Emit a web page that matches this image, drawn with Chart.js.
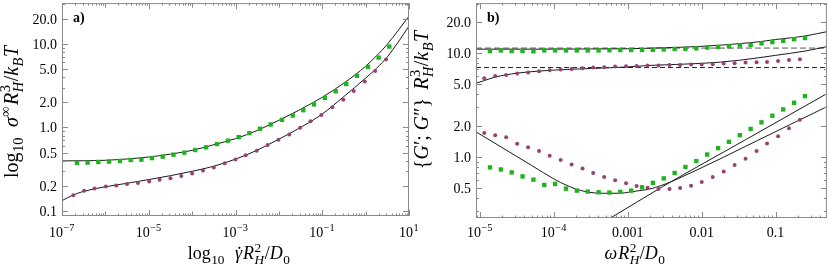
<!DOCTYPE html>
<html><head><meta charset="utf-8">
<script src="https://cdn.jsdelivr.net/npm/chart.js@4.4.0/dist/chart.umd.min.js"></script>
<style>html,body{margin:0;padding:0;background:#fff;width:830px;height:267px;overflow:hidden}
canvas{position:absolute;top:0}</style></head>
<body>
<canvas id="ca" width="830" height="267" style="left:0"></canvas>
<canvas id="cb" width="425" height="267" style="left:405px"></canvas>
<script>
// ---------- Panel a data (x given as log10 exponent of shear rate) ----------
const aSqLogX = [-6.654,-6.41,-6.163,-5.917,-5.663,-5.416,-5.17,-4.925,-4.678,-4.43,-4.18,-3.93,-3.68,-3.427,-3.173,-2.926,-2.68,-2.435,-2.19,-1.928,-1.68,-1.437,-1.19,-0.94,-0.69,-0.446,-0.2,0.055,0.30,0.546];
const aSqY    = [0.376,0.38,0.386,0.39,0.397,0.408,0.412,0.43,0.448,0.473,0.50,0.537,0.578,0.633,0.695,0.767,0.856,0.966,1.086,1.236,1.39,1.61,1.89,2.26,2.71,3.31,4.16,5.32,6.87,9.3];
const aCirLogX = [-6.74,-6.49,-6.25,-5.99,-5.75,-5.5,-5.25,-4.99,-4.75,-4.5,-4.25,-4.0,-3.75,-3.5,-3.25,-3.0,-2.765,-2.51,-2.26,-2.01,-1.76,-1.51,-1.27,-1.02,-0.77,-0.515,-0.275,-0.02,0.22,0.47];
const aCirY    = [0.155,0.175,0.186,0.197,0.202,0.211,0.217,0.226,0.236,0.247,0.263,0.281,0.305,0.331,0.373,0.414,0.464,0.528,0.616,0.714,0.826,0.991,1.188,1.415,1.745,2.15,2.73,3.56,4.73,6.5];
const aFitUpLogX = [-7,-6.5,-6,-5.5,-5,-4.5,-4,-3.5,-3,-2.5,-2,-1.5,-1,-0.5,0,0.25,0.5,0.75,1];
const aFitUpY    = [0.398,0.4,0.405,0.42,0.443,0.48,0.532,0.622,0.735,0.92,1.22,1.65,2.3,3.4,5.4,7.2,9.9,14.5,21.5];
const aFitLoLogX = [-7,-6.75,-6.5,-6,-5.5,-5,-4.5,-4,-3.5,-3,-2.5,-2,-1.5,-1,-0.5,0,0.25,0.5,0.75,1];
const aFitLoY    = [0.133,0.155,0.172,0.195,0.215,0.238,0.265,0.299,0.344,0.418,0.535,0.725,1.0,1.45,2.35,3.9,5.1,7.0,10.5,16.4];

// ---------- Panel b data (x given as log10 exponent of frequency) ----------
const bSqLogX = [-4.865,-4.718,-4.571,-4.424,-4.277,-4.130,-3.983,-3.836,-3.689,-3.542,-3.395,-3.248,-3.101,-2.954,-2.807,-2.660,-2.513,-2.366,-2.219,-2.072,-1.925,-1.778,-1.631,-1.484,-1.337,-1.190,-1.043,-0.896,-0.749,-0.602];
const bSqUpY  = [10.45,10.6,10.45,10.45,10.4,10.6,10.6,10.6,10.6,10.6,10.6,10.65,10.7,10.7,10.7,10.75,10.85,10.95,11.0,11.1,11.3,11.45,11.6,11.85,12.0,12.4,12.75,13.1,13.6,13.95];
const bSqLoY  = [0.790,0.755,0.707,0.647,0.602,0.535,0.547,0.493,0.472,0.462,0.455,0.452,0.459,0.472,0.508,0.561,0.619,0.698,0.797,0.909,1.052,1.212,1.393,1.615,1.856,2.147,2.489,2.861,3.316,3.845];
const bCirLogX = [-4.942,-4.794,-4.646,-4.497,-4.349,-4.201,-4.057,-3.908,-3.760,-3.612,-3.468,-3.319,-3.171,-3.023,-2.880,-2.732,-2.584,-2.435,-2.291,-2.143,-1.999,-1.850,-1.702,-1.554,-1.406,-1.257,-1.115,-0.966,-0.818,-0.670];
const bCirUpY  = [5.71,6.01,6.15,6.34,6.48,6.68,6.83,6.93,7.03,7.13,7.24,7.30,7.41,7.46,7.50,7.57,7.57,7.68,7.68,7.74,7.74,7.80,7.91,7.97,8.09,8.15,8.20,8.38,8.58,8.71];
const bCirLoY  = [1.699,1.614,1.545,1.332,1.239,1.134,1.022,0.930,0.844,0.772,0.698,0.639,0.593,0.555,0.524,0.504,0.490,0.490,0.501,0.527,0.572,0.639,0.723,0.833,0.957,1.134,1.341,1.579,1.884,2.278];
const bFit1LogX = [-5.06,-4.5,-4,-3.5,-3,-2.5,-2,-1.5,-1.2,-1,-0.8,-0.6,-0.3];
const bFit1Y    = [10.9,10.9,10.9,10.95,11.0,11.25,11.6,12.3,12.9,13.5,14.0,14.6,16.1];
const bFit2LogX = [-5.06,-4.94,-4.8,-4.5,-4.2,-4,-3.5,-3,-2.7,-2,-1.5,-1,-0.6,-0.3];
const bFit2Y    = [5.1,5.43,5.85,6.4,6.7,6.85,7.1,7.35,7.6,7.95,8.5,9.5,10.45,11.55];
const bFit3LogX = [-5.06,-4.6,-4.3,-3.976,-3.85,-3.706,-3.527,-3.325,-3.123,-2.942,-2.628,-2.0,-1.406,-0.8,-0.3];
const bFit3Y    = [1.75,1.11,0.824,0.598,0.54,0.49,0.455,0.445,0.445,0.461,0.505,0.785,1.26,2.05,3.05];
const bFit4LogX = [-3.45,-3.234,-2.53,-1.406,-0.3];
const bFit4Y    = [0.21,0.257,0.515,1.46,4.08];
const bDashGrey = 11.15;
const bDashBlack = 7.25;

// ---------- tick labels ----------
const aXTickExp = [-7,-5,-3,-1,1];
const aYTicks = [0.1,0.2,0.5,1,2,5,10,20];
const aYTickLabels = ['0.1','0.2','0.5','1.0','2.0','5.0','10.0','20.0'];
const bXTicks = [1e-5,1e-4,1e-3,1e-2,1e-1];
const bXTickLabels = [['10','−5'],['10','−4'],['0.001'],['0.01'],['0.1']];
const bYTicks = [0.5,1,2,5,10,20];
const bYTickLabels = ['0.5','1.0','2.0','5.0','10.0','20.0'];

const GREEN = '#1fb41f', PURPLE = '#974272', CURVE = '#1a1a1a';
const FONT = '"Liberation Serif","DejaVu Serif",serif';
Chart.defaults.font.family = FONT;

const pts = (lx, ys) => lx.map((v, i) => ({x: Math.pow(10, v), y: ys[i]}));

function setFont(ctx, size, it, bold) {
  ctx.font = (it ? 'italic ' : '') + (bold ? 'bold ' : '') + size + 'px ' + FONT;
}
function drawRich(ctx, segs, x, y, size, align, scr) {
  const ss = size * (scr || 0.72);
  const items = segs.map(s => {
    setFont(ctx, size, s.it); const wm = s.t ? ctx.measureText(s.t).width : 0;
    let wsup = 0, wsub = 0;
    if (s.sup) { setFont(ctx, ss, s.supIt); wsup = ctx.measureText(s.sup).width; }
    if (s.sub) { setFont(ctx, ss, s.subIt); wsub = ctx.measureText(s.sub).width; }
    return {s, wm, ws: Math.max(wsup, wsub)};
  });
  const total = items.reduce((a, i) => a + i.wm + (i.ws ? i.ws + 1 : 0) + (i.s.gap || 0), 0);
  let cx = align === 'center' ? x - total / 2 : align === 'right' ? x - total : x;
  ctx.textAlign = 'left'; ctx.textBaseline = 'alphabetic';
  for (const i of items) {
    const s = i.s;
    setFont(ctx, size, s.it); if (s.t) ctx.fillText(s.t, cx, y);
    if (s.dot) { ctx.beginPath(); ctx.arc(cx + i.wm * 0.62, y - size * 0.62, size * 0.06, 0, Math.PI * 2); ctx.fill(); }
    cx += i.wm;
    if (s.sup) { setFont(ctx, ss, s.supIt); ctx.fillText(s.sup, cx + 0.5, y - size * 0.4); }
    if (s.sub) { setFont(ctx, ss, s.subIt); ctx.fillText(s.sub, cx + 0.5, y + size * 0.26); }
    if (i.ws) cx += i.ws + 1;
    cx += (s.gap || 0);
  }
}

function minorList(lo, hi) {
  const out = [];
  for (let e = Math.floor(Math.log10(lo)) - 1; e <= Math.ceil(Math.log10(hi)); e++)
    for (let m = 1; m <= 9; m++) { const v = m * Math.pow(10, e); if (v >= lo * 0.999 && v <= hi * 1.001) out.push({v, m}); }
  return out;
}

const framePlugin = {
  id: 'frameAxes',
  afterDraw(chart, args, o) {
    const {ctx, chartArea: a, scales: {x, y}} = chart;
    ctx.save();
    ctx.strokeStyle = '#8a8a8a'; ctx.lineWidth = 1;
    ctx.strokeRect(a.left + 0.5, a.top + 0.5, a.right - a.left - 1, a.bottom - a.top - 1);
    ctx.beginPath();
    for (const t of minorList(x.min, x.max)) {
      const px = Math.round(x.getPixelForValue(t.v)) + 0.5;
      let len = 2.5;
      if (t.m === 1) len = o.xMajorSet.some(v => Math.abs(Math.log10(v / t.v)) < 1e-6) ? 6 : 4.5;
      ctx.moveTo(px, a.bottom); ctx.lineTo(px, a.bottom - len);
      ctx.moveTo(px, a.top); ctx.lineTo(px, a.top + len);
    }
    for (const t of minorList(y.min, y.max)) {
      const py = Math.round(y.getPixelForValue(t.v)) + 0.5;
      const major = o.yMajorSet.some(v => Math.abs(Math.log10(v / t.v)) < 1e-6);
      const len = major ? 6 : 3;
      ctx.moveTo(a.left, py); ctx.lineTo(a.left + len, py);
      ctx.moveTo(a.right, py); ctx.lineTo(a.right - len, py);
    }
    ctx.stroke();
    ctx.fillStyle = '#000';
    o.xLabels.forEach(l => {
      const px = x.getPixelForValue(l.v);
      drawRich(ctx, [l.sup ? {t: l.t, sup: l.sup} : {t: l.t}], px, o.xLabelBase, 14, 'center', 0.74);
    });
    o.yLabels.forEach(l => {
      const py = y.getPixelForValue(l.v);
      drawRich(ctx, [{t: l.t}], a.left - 5, py + 5, 14, 'right');
    });
    drawRich(ctx, o.xTitle, o.xTitleX, o.xTitleBase, 18, 'center', 0.74);
    ctx.save();
    ctx.translate(o.yTitleBase, o.yTitleY); ctx.rotate(-Math.PI / 2);
    drawRich(ctx, o.yTitle, 0, 0, 20, 'center', 0.72);
    ctx.restore();
    setFont(ctx, 14, false, true); ctx.textAlign = 'left';
    ctx.fillText(o.panel, a.left + 11, a.top + 19);
    ctx.restore();
  }
};

function scatter(data, color, style, r) {
  return {type: 'scatter', data, showLine: false, pointStyle: style, pointRadius: r, pointHoverRadius: r,
          backgroundColor: color, borderWidth: 0, borderColor: color};
}
function curve(data, color, dash, width) {
  return {type: 'line', data, showLine: true, pointRadius: 0, borderColor: color, borderWidth: width || 1,
          borderDash: dash || [], cubicInterpolationMode: 'monotone', fill: false};
}

function makeChart(id, datasets, xr, yr, pad, plug) {
  return new Chart(document.getElementById(id), {
    type: 'scatter',
    data: {datasets},
    options: {
      responsive: false, animation: false, devicePixelRatio: 1,
      layout: {padding: pad},
      scales: {
        x: {type: 'logarithmic', min: xr[0], max: xr[1], display: false, bounds: 'data'},
        y: {type: 'logarithmic', min: yr[0], max: yr[1], display: false, bounds: 'data'}
      },
      plugins: {legend: {display: false}, tooltip: {enabled: false}, frameAxes: plug}
    },
    plugins: [framePlugin]
  });
}

const Rsub = (sup) => ({t: 'R', it: true, sup, sub: 'H', subIt: true});

makeChart('ca', [
  scatter(pts(aSqLogX, aSqY), GREEN, 'rect', 3.1),
  scatter(pts(aCirLogX, aCirY), PURPLE, 'circle', 2.0),
  curve(pts(aFitUpLogX, aFitUpY), CURVE),
  curve(pts(aFitLoLogX, aFitLoY), CURVE)
], [1e-7, 10], [0.0872, 30.8], {left: 62, right: 421, top: 2, bottom: 51}, {
  xMajorSet: aXTickExp.map(e => Math.pow(10, e)),
  yMajorSet: aYTicks,
  xLabels: aXTickExp.map(e => ({v: Math.pow(10, e), t: '10', sup: e < 0 ? '−' + (-e) : String(e)})),
  yLabels: aYTicks.map((v, i) => ({v, t: aYTickLabels[i]})),
  xLabelBase: 237, xTitleX: 239, xTitleBase: 259,
  xTitle: [{t: 'log', sub: '10', gap: 10}, {t: 'γ', it: true, dot: true, gap: 1}, Rsub('2'), {t: '/'}, {t: 'D', it: true, sub: '0'}],
  yTitleBase: 18, yTitleY: 112,
  yTitle: [{t: 'log', sub: '10', gap: 10}, {t: 'σ', it: true, sup: '∞', gap: 1}, Rsub('3'), {t: '/'}, {t: 'k', it: true, sub: 'B', subIt: true}, {t: 'T', it: true}],
  panel: 'a)'
});

makeChart('cb', [
  scatter(pts(bSqLogX, bSqUpY), GREEN, 'rect', 3.1),
  scatter(pts(bSqLogX, bSqLoY), GREEN, 'rect', 3.1),
  scatter(pts(bCirLogX, bCirUpY), PURPLE, 'circle', 2.0),
  scatter(pts(bCirLogX, bCirLoY), PURPLE, 'circle', 2.0),
  curve(pts(bFit1LogX, bFit1Y), CURVE),
  curve(pts(bFit2LogX, bFit2Y), CURVE),
  curve(pts(bFit3LogX, bFit3Y), CURVE),
  curve(pts(bFit4LogX, bFit4Y), CURVE),
  curve([{x: 8.83e-6, y: bDashBlack}, {x: 0.4955, y: bDashBlack}], '#222', [5, 3], 1),
  curve([{x: 8.83e-6, y: bDashGrey}, {x: 0.4955, y: bDashGrey}], '#a0a0a0', [6, 3], 1.6)
], [8.83e-6, 0.4955], [0.257, 30.3], {left: 71, right: 2, top: 1, bottom: 49}, {
  xMajorSet: bXTicks,
  yMajorSet: bYTicks,
  xLabels: bXTicks.map((v, i) => ({v, t: bXTickLabels[i][0], sup: bXTickLabels[i][1]})),
  yLabels: bYTicks.map((v, i) => ({v, t: bYTickLabels[i]})),
  xLabelBase: 237, xTitleX: 230, xTitleBase: 259,
  xTitle: [{t: 'ω', it: true, gap: 1}, Rsub('2'), {t: '/'}, {t: 'D', it: true, sub: '0'}],
  yTitleBase: 23, yTitleY: 100,
  yTitle: [{t: '{'}, {t: 'G', it: true}, {t: '′; '}, {t: 'G', it: true}, {t: '″'}, {t: '}', gap: 8}, Rsub('3'), {t: '/'}, {t: 'k', it: true, sub: 'B', subIt: true}, {t: 'T', it: true}],
  panel: 'b)'
});
</script>
</body></html>
